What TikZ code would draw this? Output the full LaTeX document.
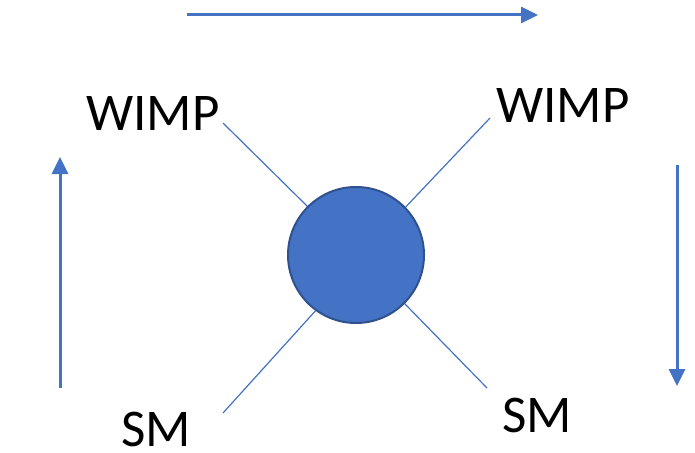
\documentclass[tikz,border=0pt]{standalone}
\usepackage{fontspec}
\setmainfont{Carlito}
\usetikzlibrary{arrows.meta}
\definecolor{accent}{HTML}{4472C4}
\definecolor{accentdark}{HTML}{2F528F}
\begin{document}
\begin{tikzpicture}[x=1pt,y=-1pt,
  label/.style={inner sep=0pt, font=\fontsize{53}{60}\selectfont, text=black},
  leg/.style={draw=accent, line width=1.2pt},
  flow/.style={draw=accent, line width=3pt, -{Triangle[length=17pt,width=16pt]}}]
  \useasboundingbox (0,0) rectangle (695,452);
  % central vertex
  \node[circle, fill=accent, draw=accentdark, line width=2pt, minimum size=136pt, inner sep=0pt] (vtx) at (356,255) {};
  % particle labels
  \node[label] (wl) at (153,113) {WIMP};
  \node[label] (wr) at (563,105) {WIMP};
  \node[label] (sl) at (156,429) {SM};
  \node[label] (sr) at (537,415) {SM};
  % free ends of the legs
  \coordinate (lul) at (223,123);
  \coordinate (lur) at (490,118);
  \coordinate (lll) at (223,413);
  \coordinate (llr) at (487,388);
  \draw[leg] (lul) -- (vtx.135);
  \draw[leg] (lur) -- (vtx.44);
  \draw[leg] (lll) -- (vtx.234);
  \draw[leg] (llr) -- (vtx.315);
  % direction arrows
  \coordinate (t0) at (187,15);  \coordinate (t1) at (538,15);
  \coordinate (l0) at (60,388);  \coordinate (l1) at (60,157);
  \coordinate (r0) at (677,165); \coordinate (r1) at (677,386);
  \draw[flow] (t0) -- (t1);
  \draw[flow] (l0) -- (l1);
  \draw[flow] (r0) -- (r1);
\end{tikzpicture}
\end{document}
